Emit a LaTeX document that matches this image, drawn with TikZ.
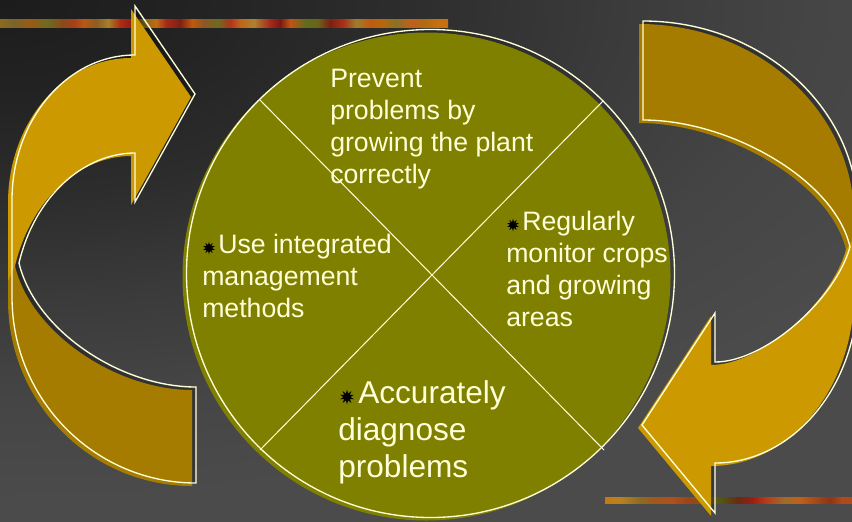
\documentclass[tikz,border=0pt]{standalone}
\usepackage{fontspec}
\setmainfont{Liberation Sans}
\usetikzlibrary{shapes.geometric}

\definecolor{bgfar}{HTML}{4B4B4B}
\definecolor{olivefill}{HTML}{808000}
\definecolor{goldfront}{HTML}{CC9900}
\definecolor{goldback}{HTML}{A67C00}
\definecolor{cream}{HTML}{FFFFD9}

% dark corner glow of the slide background (the path spans the inner 25bp)
\pgfdeclareradialshading{cornerglow}{\pgfpoint{0bp}{0bp}}{%
  rgb(0bp)=(0.110,0.110,0.110);
  rgb(4.5bp)=(0.137,0.137,0.137);
  rgb(9.25bp)=(0.176,0.176,0.176);
  rgb(14bp)=(0.231,0.231,0.231);
  rgb(18.5bp)=(0.271,0.271,0.271);
  rgb(23.25bp)=(0.294,0.294,0.294);
  rgb(50bp)=(0.294,0.294,0.294)}

% left arrow: back band, front band with head, and its rim
\def\LArrowBack{(12,240) -- (12,297) .. controls (12,400) and (95,483) .. (196,483)
  -- (196,387) .. controls (120,387) and (35,330) .. (19,263) -- cycle}
\def\LArrowFront{(135,55) .. controls (67,55) and (12,120) .. (12,200) -- (12,278)
  -- (19,263) .. controls (35,195) and (85,153) .. (135,153) -- (135,202)
  -- (195,94) -- (135,6) -- cycle}
\def\LArrowRim{(135,6) -- (195,94) -- (135,202) -- (135,153)
  .. controls (85,153) and (35,195) .. (19,263)
  .. controls (35,330) and (120,387) .. (196,387) -- (196,483)
  .. controls (95,483) and (12,400) .. (12,297) -- (12,200)
  .. controls (12,120) and (67,55) .. (135,55) -- cycle}

% right arrow: back band, front band with head, and its rim
\def\RArrowBack{(643,21) .. controls (762,21) and (858,108) .. (858,215) -- (858,260)
  -- (850,247) .. controls (835,180) and (730,120) .. (643,120) -- cycle}
\def\RArrowFront{(858,235) -- (858,290) .. controls (858,385) and (794,463) .. (715,463)
  -- (715,513) -- (642,425) -- (715,313) -- (715,362)
  .. controls (765,362) and (835,300) .. (850,247) -- cycle}
\def\RArrowRim{(643,21) .. controls (762,21) and (858,108) .. (858,215) -- (858,290)
  .. controls (858,385) and (794,463) .. (715,463) -- (715,513) -- (642,425)
  -- (715,313) -- (715,362) .. controls (765,362) and (835,300) .. (850,247)
  .. controls (835,180) and (730,120) .. (643,120) -- cycle}

\begin{document}
\begin{tikzpicture}[x=0.75pt,y=-0.75pt,
  rimline/.style={draw=cream, line width=1pt, line join=miter},
  divider/.style={draw=cream, line width=0.75pt},
  castshadow/.style={fill=black, opacity=0.25},
  blurb/.style={text=cream, inner sep=0pt, anchor=base west, align=left,
    font=\fontsize{20}{24}\selectfont},
  bigblurb/.style={blurb, font=\fontsize{23.7}{28.1}\selectfont},
  bullet/.style={star, star points=10, star point ratio=2.1, fill=black,
    inner sep=0pt, minimum size=9.5pt},
  bigbullet/.style={bullet, minimum size=11pt}]

\useasboundingbox (0,0) rectangle (852,521);

% background
\fill[bgfar] (0,0) rectangle (852,521);
\begin{scope}
  \clip (0,0) rectangle (852,521);
  \shade[shading=cornerglow] (-1100,-540) rectangle (1100,540);
\end{scope}

% textured accent bars, each patch blending into the next
\foreach \a/\b/\c/\d in {0/14/8C6A1E/7A6428, 14/30/7A6428/9A5A14,
  30/48/9A5A14/6E6A22, 48/62/6E6A22/8A4A18, 62/74/8A4A18/A8401A,
  74/84/A8401A/B85A14, 84/96/B85A14/8E5C22, 96/108/8E5C22/A6802A,
  108/120/A6802A/B02C10, 120/132/B02C10/8A1E14, 132/142/8A1E14/7C6A1E,
  142/156/7C6A1E/C06A12, 156/166/C06A12/A82A18, 166/180/A82A18/7E2014,
  180/192/7E2014/C05A0C, 192/204/C05A0C/8E5624, 204/218/8E5624/6E6A20,
  218/230/6E6A20/B0341A, 230/240/B0341A/C0641A, 240/254/C0641A/AE8030,
  254/270/AE8030/A82818, 270/280/A82818/781A12, 280/290/781A12/C05414,
  290/306/C05414/5E6C1E, 306/318/5E6C1E/6A6418, 318/330/6A6418/7E1E12,
  330/344/7E1E12/A8341A, 344/356/A8341A/A07C2C, 356/370/A07C2C/C05A10,
  370/382/C05A10/B8660E, 382/396/B8660E/8A7224, 396/410/8A7224/C0601A,
  410/424/C0601A/B06A14, 424/438/B06A14/C8700E, 438/448/C8700E/C8700E}
  {\definecolor{segl}{HTML}{\c}\definecolor{segr}{HTML}{\d}%
   \shade[left color=segl, right color=segr] (\a,19) rectangle (\b,27);}
\foreach \a/\b/\c/\d in {605/620/C8780E/B8821E, 620/640/B8821E/8E6A24,
  640/655/8E6A24/A4561A, 655/672/A4561A/B0501A, 672/690/B0501A/9A4418,
  690/705/9A4418/7A5A1C, 705/720/7A5A1C/4E5A14, 720/738/4E5A14/6A2A12,
  738/752/6A2A12/9A1E14, 752/768/9A1E14/B8401A, 768/784/B8401A/A06A28,
  784/800/A06A28/C0601A, 800/815/C0601A/A84818, 815/830/A84818/8E3416,
  830/842/8E3416/B04A1A, 842/852/B04A1A/B04A1A}
  {\definecolor{segl}{HTML}{\c}\definecolor{segr}{HTML}{\d}%
   \shade[left color=segl, right color=segr] (\a,497) rectangle (\b,503);}

% circle with its four sectors
\fill[black, opacity=0.12] (428.5,274.5) circle [radius=245];
\fill[olivefill] (426.5,276.5) circle [radius=244];
\draw[rimline] (430.5,273.5) circle [radius=244];
\coordinate (nw) at (260,100);
\coordinate (ne) at (603,101);
\coordinate (sw) at (260,450);
\coordinate (se) at (604,450);
\draw[divider] (nw) -- (se);
\draw[divider] (ne) -- (sw);

% left arrow
\fill[castshadow, shift={(-1,1)}] \LArrowRim;
\begin{scope}[shift={(-4,3)}]
  \fill[goldback] \LArrowBack;
  \fill[goldfront] \LArrowFront;
\end{scope}
\draw[rimline] \LArrowRim;

% right arrow
\fill[castshadow, shift={(-1,1)}] \RArrowRim;
\begin{scope}[shift={(-4,3)}]
  \fill[goldback] \RArrowBack;
  \fill[goldfront] \RArrowFront;
\end{scope}
\draw[rimline] \RArrowRim;

% sector texts
\node[blurb] (prevent) at (330,87)
  {\begin{tabular}[t]{@{}l@{}}Prevent\\problems by\\growing the plant\\correctly\end{tabular}};
\node[blurb] (monitor) at (506,230)
  {\begin{tabular}[t]{@{}l@{}}\hspace*{12pt}Regularly\\monitor crops\\and growing\\areas\end{tabular}};
\node[bullet] (monitorstar) at (513,225) {};
\node[blurb] (integrate) at (202,253)
  {\begin{tabular}[t]{@{}l@{}}\hspace*{12pt}Use integrated\\management\\methods\end{tabular}};
\node[bullet] (integratestar) at (209,248) {};
\node[bigblurb] (diagnose) at (338,403)
  {\begin{tabular}[t]{@{}l@{}}\hspace*{15pt}Accurately\\diagnose\\problems\end{tabular}};
\node[bigbullet] (diagnosestar) at (347,397) {};

\end{tikzpicture}
\end{document}
